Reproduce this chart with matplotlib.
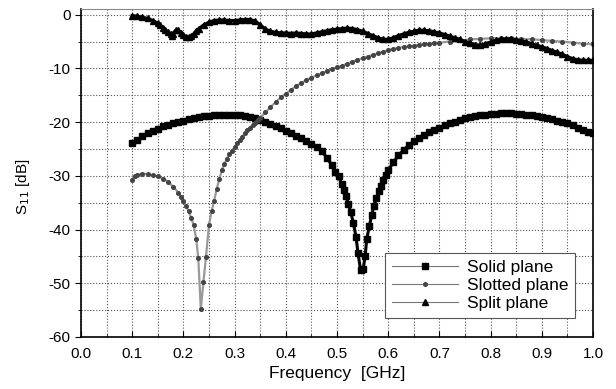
import matplotlib
matplotlib.use('Agg')
import matplotlib.pyplot as plt
from matplotlib.ticker import MultipleLocator, FormatStrFormatter

plt.rcParams['font.family'] = ['Liberation Sans', 'DejaVu Sans']
plt.rcParams['axes.unicode_minus'] = False

# Solid plane: S11 [dB] vs frequency [GHz]
solid_f = [0.10, 0.11, 0.12, 0.13, 0.14, 0.15, 0.16, 0.17, 0.18, 0.19,
           0.20, 0.21, 0.22, 0.23, 0.24, 0.25, 0.26, 0.27, 0.28, 0.29,
           0.30, 0.31, 0.32, 0.33, 0.34, 0.35, 0.36, 0.37, 0.38, 0.39,
           0.40, 0.41, 0.42, 0.43, 0.44, 0.45, 0.46, 0.47, 0.48, 0.49,
           0.496, 0.503, 0.509, 0.514, 0.518, 0.522, 0.527, 0.532, 0.537, 0.541,
           0.546, 0.551, 0.555, 0.558, 0.563, 0.568, 0.572, 0.577, 0.582, 0.586,
           0.590, 0.596, 0.600, 0.61, 0.62, 0.63, 0.64, 0.65, 0.66, 0.67,
           0.68, 0.69, 0.70, 0.71, 0.72, 0.73, 0.74, 0.75, 0.76, 0.77,
           0.78, 0.79, 0.80, 0.81, 0.82, 0.83, 0.84, 0.85, 0.86, 0.87,
           0.88, 0.89, 0.90, 0.91, 0.92, 0.93, 0.94, 0.95, 0.96, 0.97,
           0.98, 0.99, 1.00]
solid_db = [-23.9, -23.3, -22.6, -22.1, -21.6, -21.2, -20.8, -20.5, -20.2, -20.0,
            -19.8, -19.5, -19.3, -19.1, -18.9, -18.8, -18.7, -18.6, -18.6, -18.6,
            -18.6, -18.7, -18.9, -19.1, -19.3, -19.6, -19.9, -20.3, -20.7, -21.1,
            -21.6, -22.0, -22.5, -23.0, -23.5, -24.0, -24.7, -25.4, -26.6, -28.0,
            -29.2, -30.1, -31.5, -32.7, -33.8, -35.3, -36.8, -38.8, -41.3, -44.4,
            -47.5, -47.4, -44.9, -41.8, -39.4, -37.2, -35.6, -34.1, -32.9, -31.8,
            -30.7, -29.8, -29.0, -27.5, -26.2, -25.2, -24.3, -23.6, -23.0, -22.4,
            -21.9, -21.4, -21.0, -20.6, -20.2, -19.9, -19.6, -19.3, -19.1, -18.9,
            -18.7, -18.6, -18.5, -18.4, -18.35, -18.3, -18.3, -18.4, -18.5, -18.6,
            -18.7, -18.8, -19.0, -19.2, -19.4, -19.7, -19.9, -20.2, -20.6, -21.0,
            -21.4, -21.8, -22.1]

# Slotted plane
slot_f = [0.10, 0.105, 0.11, 0.12, 0.13, 0.14, 0.15, 0.16, 0.17, 0.18,
          0.19, 0.195, 0.20, 0.205, 0.21, 0.215, 0.22, 0.225, 0.229, 0.234,
          0.239, 0.244, 0.25, 0.255, 0.26, 0.265, 0.27, 0.275, 0.28, 0.285,
          0.29, 0.295, 0.30, 0.305, 0.31, 0.315, 0.32, 0.325, 0.33, 0.335,
          0.34, 0.345, 0.35, 0.36, 0.37, 0.38, 0.39, 0.40, 0.41, 0.42,
          0.43, 0.44, 0.45, 0.46, 0.47, 0.48, 0.49, 0.50, 0.51, 0.52,
          0.53, 0.54, 0.55, 0.56, 0.57, 0.58, 0.59, 0.60, 0.61, 0.62,
          0.63, 0.64, 0.65, 0.66, 0.67, 0.68, 0.69, 0.70, 0.72, 0.74,
          0.76, 0.78, 0.80, 0.82, 0.84, 0.86, 0.88, 0.90, 0.92, 0.94,
          0.96, 0.98, 1.00]
slot_db = [-30.7, -30.0, -29.8, -29.6, -29.7, -29.9, -30.1, -30.5, -31.1, -32.0,
           -33.1, -33.9, -34.7, -35.6, -36.6, -37.8, -39.2, -41.7, -45.3, -54.8,
           -49.8, -45.2, -39.1, -36.6, -34.6, -32.5, -30.6, -29.0, -27.8, -26.8,
           -26.0, -25.3, -24.6, -23.9, -23.3, -22.7, -22.1, -21.5, -21.0, -20.5,
           -20.1, -19.6, -19.2, -18.2, -17.2, -16.3, -15.4, -14.7, -14.0, -13.3,
           -12.7, -12.2, -11.7, -11.3, -10.9, -10.5, -10.1, -9.8, -9.5, -9.1,
           -8.8, -8.4, -8.1, -7.8, -7.5, -7.2, -6.9, -6.6, -6.4, -6.2,
           -6.0, -5.9, -5.8, -5.6, -5.5, -5.4, -5.3, -5.2, -5.0, -4.8,
           -4.6, -4.5, -4.4, -4.4, -4.4, -4.5, -4.6, -4.7, -4.9, -5.0,
           -5.2, -5.4, -5.5]

# Split plane
split_f = [0.10, 0.11, 0.12, 0.13, 0.14, 0.15, 0.155, 0.16, 0.165, 0.17,
           0.175, 0.177, 0.18, 0.185, 0.19, 0.195, 0.20, 0.205, 0.21, 0.215,
           0.22, 0.225, 0.23, 0.24, 0.25, 0.26, 0.27, 0.28, 0.29, 0.30,
           0.31, 0.32, 0.33, 0.34, 0.35, 0.36, 0.37, 0.38, 0.39, 0.40,
           0.41, 0.42, 0.43, 0.44, 0.45, 0.46, 0.47, 0.48, 0.49, 0.50,
           0.51, 0.52, 0.53, 0.54, 0.55, 0.56, 0.57, 0.58, 0.59, 0.60,
           0.61, 0.62, 0.63, 0.64, 0.65, 0.66, 0.67, 0.68, 0.69, 0.70,
           0.71, 0.72, 0.73, 0.74, 0.75, 0.76, 0.77, 0.78, 0.79, 0.80,
           0.81, 0.82, 0.83, 0.84, 0.85, 0.86, 0.87, 0.88, 0.89, 0.90,
           0.91, 0.92, 0.93, 0.94, 0.95, 0.96, 0.97, 0.98, 0.99, 1.00]
split_db = [-0.2, -0.3, -0.5, -0.7, -1.1, -1.6, -2.0, -2.5, -2.9, -3.2,
            -3.6, -4.0, -3.5, -2.9, -2.9, -3.4, -3.8, -4.1, -4.2, -4.0,
            -3.6, -3.0, -2.6, -1.9, -1.4, -1.1, -1.0, -1.0, -1.1, -1.1,
            -1.0, -0.9, -0.9, -1.2, -1.9, -2.7, -3.1, -3.3, -3.4, -3.4,
            -3.5, -3.4, -3.5, -3.6, -3.6, -3.4, -3.2, -3.0, -2.8, -2.7,
            -2.6, -2.5, -2.6, -2.8, -3.1, -3.5, -3.9, -4.3, -4.6, -4.6,
            -4.3, -3.9, -3.6, -3.3, -3.1, -2.9, -2.9, -3.0, -3.2, -3.4,
            -3.7, -4.0, -4.3, -4.6, -5.0, -5.3, -5.6, -5.7, -5.4, -5.1,
            -4.8, -4.6, -4.5, -4.5, -4.7, -4.9, -5.1, -5.4, -5.7, -6.0,
            -6.3, -6.7, -7.0, -7.4, -7.8, -8.2, -8.4, -8.5, -8.5, -8.5]

fig = plt.figure(figsize=(6.16, 3.89), dpi=100)
ax = fig.add_axes([0.1315, 0.1337, 0.8312, 0.8423])

# draw the series (thick lines, markers mostly merge as in a dense scan)
ax.plot(solid_f, solid_db, color='black', lw=2.2, marker='s', ms=4,
        mfc='black', mec='black', label='Solid plane')
ax.plot(slot_f, slot_db, color='#999999', lw=1.6, marker='o', ms=2.6,
        mfc='#444444', mec='#444444', label='Slotted plane')
ax.plot(split_f, split_db, color='black', lw=2.4, marker='^', ms=4,
        mfc='black', mec='black', label='Split plane')

ax.set_xlim(0.0, 1.0)
ax.set_ylim(-60, 1)
ax.xaxis.set_major_locator(MultipleLocator(0.1))
ax.xaxis.set_minor_locator(MultipleLocator(0.05))
ax.yaxis.set_major_locator(MultipleLocator(10))
ax.yaxis.set_minor_locator(MultipleLocator(5))
ax.xaxis.set_major_formatter(FormatStrFormatter('%.1f'))
ax.grid(True, which='both', linestyle=':', color='#555555', lw=0.8)
ax.tick_params(axis='x', which='both', direction='in', labelsize=11, pad=7)
ax.tick_params(axis='y', which='both', direction='out', labelsize=11)
ax.tick_params(which='major', length=4)
ax.tick_params(which='minor', length=2)

for s in ['left', 'bottom', 'right']:
    ax.spines[s].set_linewidth(1.2)
ax.spines['top'].set_color('#888888')
ax.spines['top'].set_linewidth(0.8)

ax.set_xlabel('Frequency  [GHz]', fontsize=12.5, labelpad=4)
ax.set_ylabel('S$_{11}$ [dB]', fontsize=11)
ax.yaxis.set_label_coords(-0.095, 0.46)

leg = ax.legend(loc='lower left', bbox_to_anchor=(0.594, 0.059), fontsize=12.5,
                fancybox=False, edgecolor='#555555', framealpha=1,
                handlelength=3.8, handletextpad=0.5, borderpad=0.4,
                labelspacing=0.15, borderaxespad=0)
for h in leg.legend_handles:
    h.set_linewidth(0.8)
    h.set_color('#777777')
leg.get_frame().set_linewidth(0.8)

fig.savefig('out.png', dpi=100)
